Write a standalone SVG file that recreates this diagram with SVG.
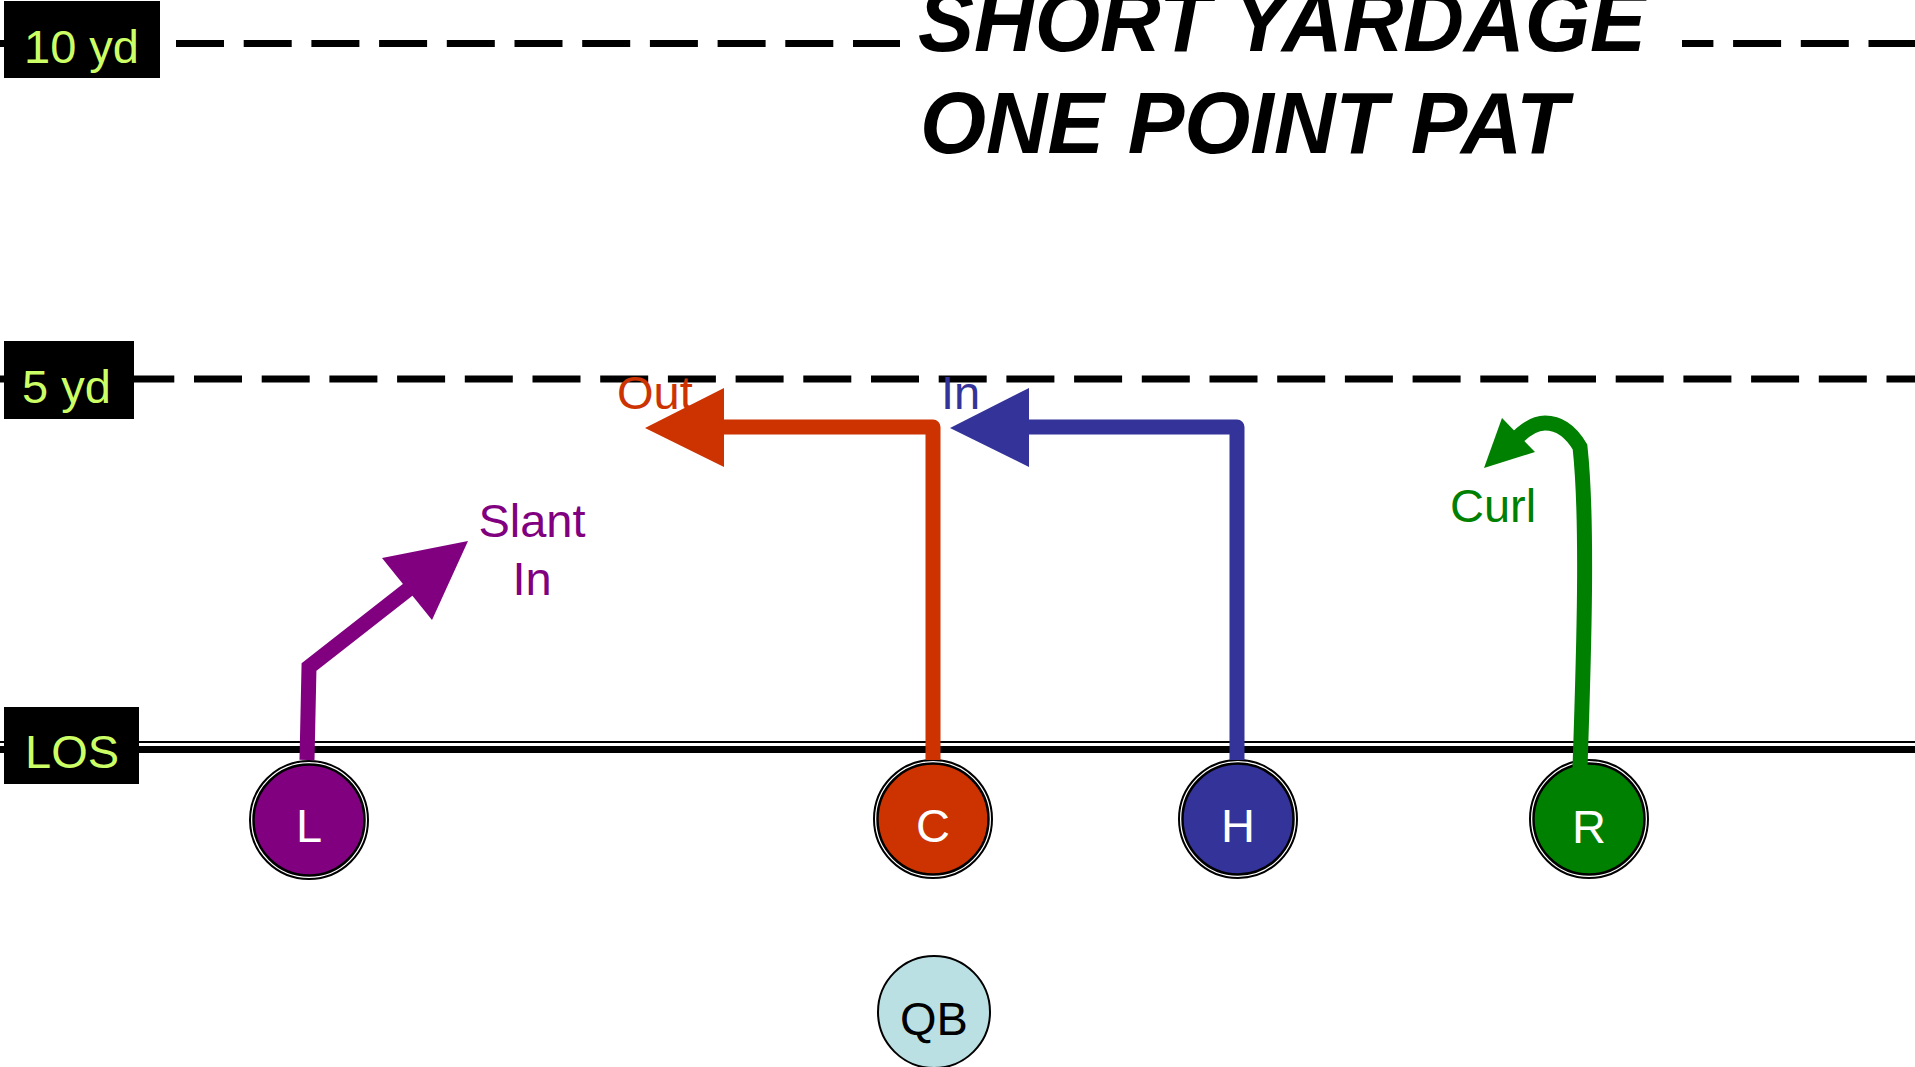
<svg xmlns="http://www.w3.org/2000/svg" width="1915" height="1067" viewBox="0 0 1915 1067">
<style>
.lbl{font-family:"Liberation Sans",Arial,sans-serif;font-size:47px;fill:#CCFF66}
.yd{stroke:#000;stroke-width:7;stroke-dasharray:48 19.7;fill:none}
.route{fill:none;stroke-width:15}
.rt{font-family:"Liberation Sans",Arial,sans-serif;font-size:47px}
.pl{font-family:"Liberation Sans",Arial,sans-serif;font-size:47px;fill:#fff;text-anchor:middle}
.title{font-family:"Liberation Sans",Arial,sans-serif;font-size:87px;font-weight:bold;font-style:italic;fill:#000}
</style>
<rect width="1915" height="1067" fill="#fff"/>
<g id="field">
  <line class="yd" x1="-27.1" y1="43.5" x2="1915" y2="43.5"/>
  <line class="yd" x1="-9.1" y1="379" x2="1915" y2="379"/>
  <line x1="0" y1="742" x2="1915" y2="742" stroke="#000" stroke-width="2"/>
  <line x1="0" y1="749.5" x2="1915" y2="749.5" stroke="#000" stroke-width="7"/>
</g>
<g id="title">
  <rect x="900" y="0" width="782" height="170" fill="#fff"/>
  <text class="title" x="918" y="51" textLength="728" lengthAdjust="spacingAndGlyphs">SHORT YARDAGE</text>
  <text class="title" x="920" y="153" textLength="648" lengthAdjust="spacingAndGlyphs">ONE POINT PAT</text>
</g>
<g id="label-10yd">
  <rect x="4" y="1" width="156" height="77" fill="#000"/>
  <text class="lbl" x="24" y="63">10 yd</text>
</g>
<g id="label-5yd">
  <rect x="4" y="341" width="130" height="78" fill="#000"/>
  <text class="lbl" x="22" y="403">5 yd</text>
</g>
<g id="label-los">
  <rect x="4" y="707" width="135" height="77" fill="#000"/>
  <text class="lbl" x="25" y="768">LOS</text>
</g>
<g id="node-L">
  <circle cx="309" cy="820" r="59" fill="#fff" stroke="#000" stroke-width="2"/>
  <circle cx="309" cy="820" r="55.5" fill="#800080" stroke="#000" stroke-width="2.5"/>
  <text class="pl" x="309" y="842">L</text>
</g>
<g id="node-C">
  <circle cx="933" cy="819" r="59" fill="#fff" stroke="#000" stroke-width="2"/>
  <circle cx="933" cy="819" r="55.5" fill="#CC3300" stroke="#000" stroke-width="2.5"/>
  <text class="pl" x="933" y="842">C</text>
</g>
<g id="node-H">
  <circle cx="1238" cy="819" r="59" fill="#fff" stroke="#000" stroke-width="2"/>
  <circle cx="1238" cy="819" r="55.5" fill="#333399" stroke="#000" stroke-width="2.5"/>
  <text class="pl" x="1238" y="842">H</text>
</g>
<g id="node-R">
  <circle cx="1589" cy="819" r="59" fill="#fff" stroke="#000" stroke-width="2"/>
  <circle cx="1589" cy="819" r="55.5" fill="#008000" stroke="#000" stroke-width="2.5"/>
  <text class="pl" x="1589" y="843">R</text>
</g>
<g id="node-QB">
  <circle cx="934" cy="1012" r="56" fill="#BBE0E3" stroke="#000" stroke-width="2"/>
  <text class="rt" x="934" y="1035" text-anchor="middle" fill="#000">QB</text>
</g>
<g id="connectors">
  <g id="route-L">
    <polyline class="route" points="307,760 309,667 410,588" stroke="#800080" stroke-width="14" stroke-linejoin="miter"/>
    <polygon points="468,541 382,558 432,620" fill="#800080"/>
    <text class="rt" x="532" y="537" text-anchor="middle" fill="#800080">Slant</text>
    <text class="rt" x="532" y="595" text-anchor="middle" fill="#800080">In</text>
  </g>
  <g id="route-C">
    <polyline class="route" points="933,760 933,427 720,427" stroke="#CC3300" stroke-linejoin="round"/>
    <polygon points="645,428 724,388 724,467" fill="#CC3300"/>
    <text class="rt" x="617" y="409" fill="#CC3300">Out</text>
  </g>
  <g id="route-H">
    <polyline class="route" points="1237,760 1237,427 1025,427" stroke="#333399" stroke-linejoin="round"/>
    <polygon points="950,428 1029,388 1029,467" fill="#333399"/>
    <text class="rt" x="941" y="409" fill="#333399">In</text>
  </g>
  <g id="route-R">
    <path class="route" d="M1580 768 C1584 650 1588 520 1580 447 C1570 430 1558 423 1545 423 C1533 423 1522 432 1513 442" stroke="#008000"/>
    <polygon points="1502,418 1484,468 1535,452" fill="#008000"/>
    <text class="rt" x="1450" y="522" fill="#008000">Curl</text>
  </g>
</g>
</svg>
